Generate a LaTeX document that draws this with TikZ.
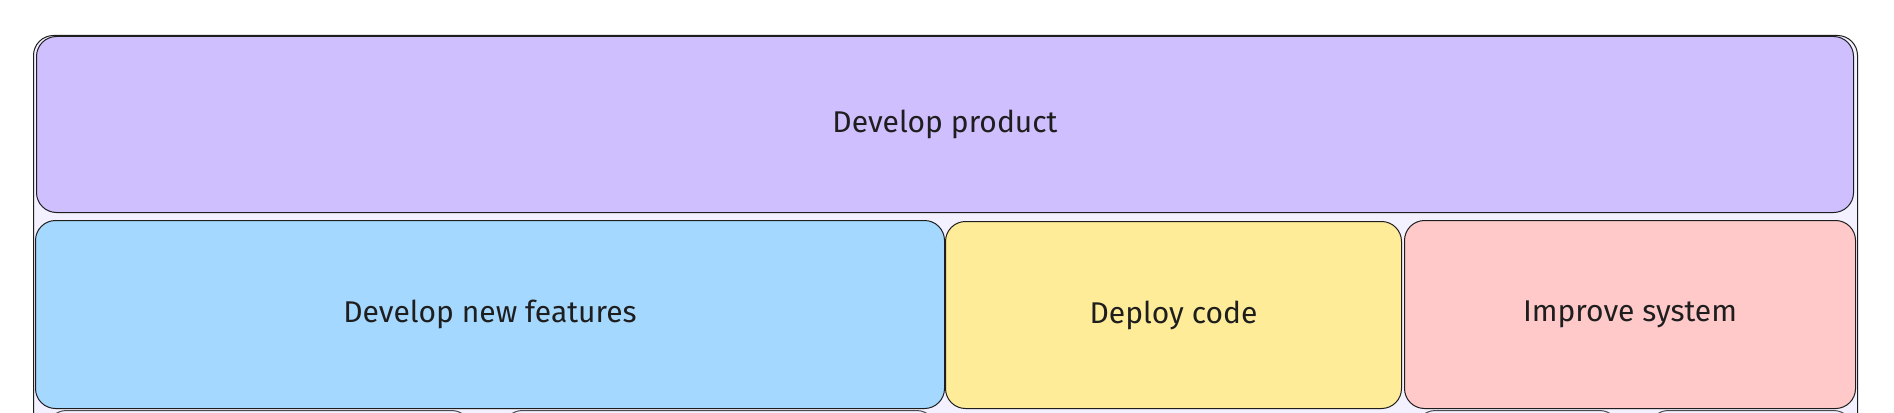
\documentclass[tikz,border=0pt]{standalone}
\usepackage{fontspec}
\setmainfont{Fira Sans}
\definecolor{ink}{HTML}{1E1E1E}
\definecolor{cont}{HTML}{F3F0FF}
\definecolor{violetf}{HTML}{D0BFFF}
\definecolor{bluef}{HTML}{A5D8FF}
\definecolor{yellowf}{HTML}{FFEC99}
\definecolor{redf}{HTML}{FFC9C9}
\tikzset{
  blk/.style={draw=ink, line width=1pt, rounded corners=20pt, anchor=north west,
    inner sep=0pt, text=ink, font=\fontsize{30}{36}\selectfont},
  lowblk/.style={draw=ink!80, line width=1pt, rounded corners=20pt, anchor=north west,
    inner sep=0pt, fill=cont}
}
\begin{document}
\begin{tikzpicture}[x=1pt,y=-1pt]
\clip (0,0) rectangle (1894,412);
\fill[white] (0,0) rectangle (1894,412);
\node[blk, fill=cont, minimum width=1824pt, minimum height=500pt] (outer) at (33,35) {};
\node[blk, fill=violetf, minimum width=1817pt, minimum height=176pt] (product) at (36,36) {Develop product};
\node[blk, fill=bluef, minimum width=909pt, minimum height=188pt] (features) at (35,220) {Develop new features};
\node[blk, fill=yellowf, minimum width=456pt, minimum height=187pt] (deploy) at (945,221) {Deploy code};
\node[blk, fill=redf, minimum width=451pt, minimum height=188pt] (improve) at (1404,220) {Improve system};
\node[lowblk, minimum width=425pt, minimum height=100pt] (lowa) at (46,410) {};
\node[lowblk, minimum width=434pt, minimum height=100pt] (lowb) at (502,410) {};
\node[lowblk, minimum width=204pt, minimum height=100pt] (lowc) at (1415,410) {};
\node[lowblk, minimum width=205pt, minimum height=100pt] (lowd) at (1648,410) {};
\end{tikzpicture}
\end{document}
